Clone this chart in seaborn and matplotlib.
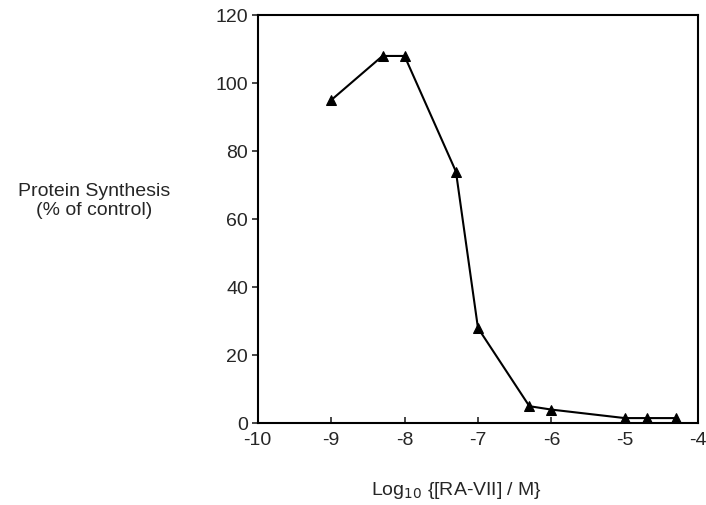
import pandas as pd
import seaborn as sns
import matplotlib.pyplot as plt

log_conc = [-9.0, -8.3, -8.0, -7.3, -7.0, -6.3, -6.0, -5.0, -4.7, -4.3]
synthesis = [95, 108, 108, 74, 28, 5, 4, 1.5, 1.5, 1.5]

x_ticks = [-10, -9, -8, -7, -6, -5, -4]
y_ticks = [0, 20, 40, 60, 80, 100, 120]

df = pd.DataFrame({'log_conc': log_conc, 'synthesis': synthesis})

sns.set_style('ticks')
plt.rcParams['font.family'] = ['Liberation Sans', 'DejaVu Sans']

fig = plt.figure(figsize=(7.06, 5.05), dpi=100)
ax = fig.add_axes([0.365, 0.162, 0.624, 0.808])

sns.lineplot(data=df, x='log_conc', y='synthesis', color='black', linewidth=1.5,
             marker='^', markersize=7, markeredgecolor='black', ax=ax)

ax.set_xlim(-10, -4)
ax.set_ylim(0, 120)
ax.set_xticks(x_ticks)
ax.set_yticks(y_ticks)
ax.set_xticklabels([str(t) for t in x_ticks], fontsize=14)
ax.set_yticklabels([str(t) for t in y_ticks], fontsize=14)
for s in ax.spines.values():
    s.set_linewidth(1.5)
    s.set_color('black')
ax.tick_params(axis='y', direction='out', length=4, width=1.2, pad=3)
ax.tick_params(axis='x', direction='in', length=4, width=1.2, pad=6)

ax.set_xlabel('')
ax.set_ylabel('')
fig.text(0.133, 0.602, 'Protein Synthesis\n(% of control)', ha='center', va='center',
         fontsize=14, linespacing=1.15)
fig.text(0.647, 0.028, 'Log$_{10}$ {[RA-VII] / M}', ha='center', va='center', fontsize=14)

fig.savefig('out.png', dpi=100)
